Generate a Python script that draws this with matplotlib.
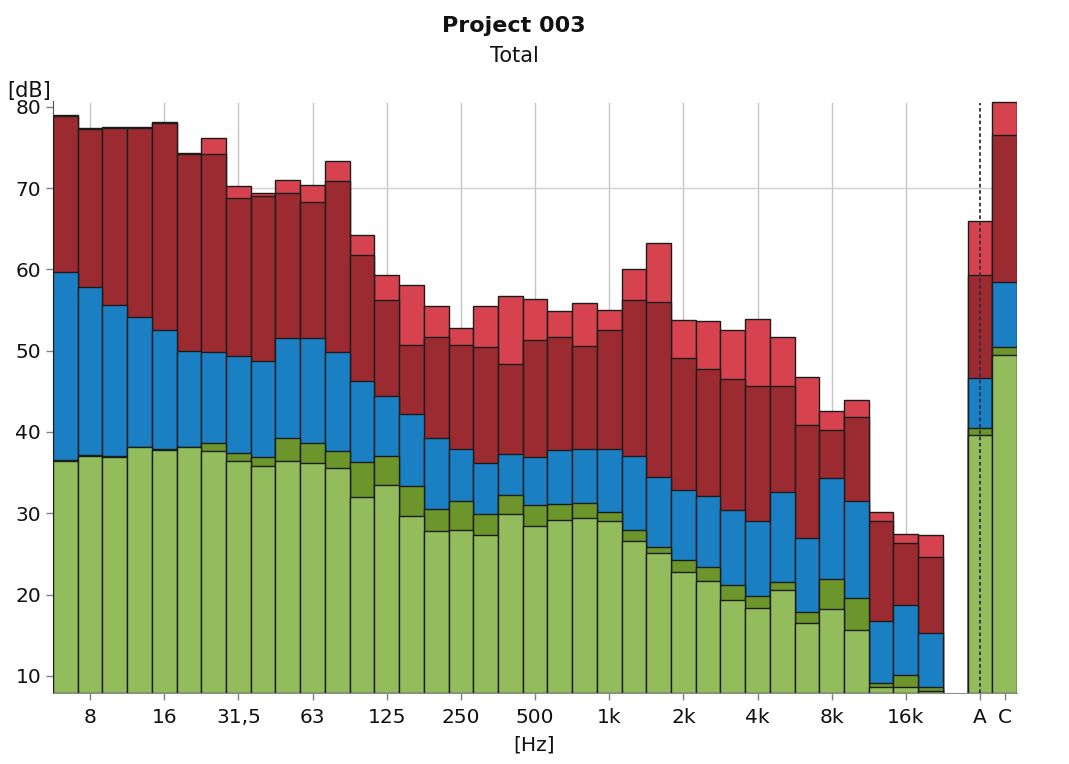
import numpy as np
import matplotlib
matplotlib.use("Agg")
import matplotlib.pyplot as plt

# 1/3-octave bands plus the A and C weighted totals
bands = ['6,3', '8', '10', '12,5', '16', '20', '25', '31,5', '40', '50', '63', '80',
         '100', '125', '160', '200', '250', '315', '400', '500', '630', '800',
         '1k', '1,25k', '1,6k', '2k', '2,5k', '3,15k', '4k', '5k', '6,3k', '8k',
         '10k', '12,5k', '16k', '20k']
totals = ['A', 'C']

# levels in dB, one list per layer (bands then A, C)
lvl_total = [79.0, 77.4, 77.5, 77.5, 78.1, 74.3, 76.1, 70.2, 69.4, 71.0, 70.4, 73.3,
             64.2, 59.3, 58.1, 55.5, 52.8, 55.5, 56.7, 56.4, 54.9, 55.9, 55.0, 60.0,
             63.3, 53.8, 53.6, 52.5, 53.9, 51.7, 46.8, 42.6, 43.9, 30.2, 27.5, 27.3,
             65.9, 80.6]
lvl_red = [78.9, 77.3, 77.4, 77.4, 78.0, 74.2, 74.2, 68.8, 69.0, 69.4, 68.3, 70.9,
           61.8, 56.2, 50.7, 51.7, 50.7, 50.4, 48.3, 51.3, 51.7, 50.6, 52.5, 56.2,
           56.0, 49.1, 47.8, 46.5, 45.6, 45.7, 40.9, 40.3, 41.9, 29.1, 26.4, 24.6,
           59.3, 76.5]
lvl_blue = [59.7, 57.8, 55.6, 54.1, 52.5, 50.0, 49.8, 49.4, 48.7, 51.6, 51.6, 49.8,
            46.3, 44.4, 42.2, 39.2, 37.9, 36.2, 37.3, 36.9, 37.8, 37.9, 37.9, 37.1,
            34.5, 32.9, 32.1, 30.4, 29.0, 32.6, 27.0, 34.3, 31.5, 16.7, 18.7, 15.3,
            46.6, 58.4]
lvl_dkgreen = [36.5, 37.2, 37.0, 38.2, 37.9, 38.2, 38.7, 37.4, 36.9, 39.2, 38.7, 37.6,
               36.3, 37.1, 33.3, 30.5, 31.5, 29.9, 32.3, 31.0, 31.2, 31.3, 30.1, 28.0,
               25.8, 24.2, 23.4, 21.2, 19.8, 21.6, 17.9, 21.9, 19.6, 9.1, 10.1, 8.6,
               40.5, 50.5]
lvl_green = [36.4, 37.1, 36.9, 38.1, 37.8, 38.1, 37.7, 36.4, 35.8, 36.4, 36.2, 35.6,
             32.0, 33.5, 29.7, 27.8, 27.9, 27.3, 29.9, 28.5, 29.2, 29.4, 29.0, 26.6,
             25.1, 22.8, 21.7, 19.3, 18.3, 20.6, 16.5, 18.2, 15.6, 8.7, 8.7, 8.2,
             39.6, 49.5]

tick_labels = ['8', '16', '31,5', '63', '125', '250', '500', '1k', '2k', '4k', '8k', '16k']

# bar positions: bands side by side, one empty slot, then A and C
x = np.concatenate([np.arange(len(bands)), len(bands) + 1 + np.arange(len(totals))])

fig = plt.figure(figsize=(10.69, 7.64), dpi=100)
ax = fig.add_axes([0.0496, 0.0929, 0.9018, 0.7749])

ymin, ymax = 7.9, 80.7
layers = [
    (lvl_total, '#d6434f'),
    (lvl_red, '#9c2a31'),
    (lvl_blue, '#1b80c3'),
    (lvl_dkgreen, '#6c952c'),
    (lvl_green, '#93bd5d'),
]
for z, (vals, col) in enumerate(layers):
    v = np.array(vals)
    ax.bar(x, v - ymin, bottom=ymin, width=1.0, color=col,
           edgecolor='#1c1c1c', linewidth=1.0, zorder=2 + z)

ax.set_xlim(-0.5, x[-1] + 0.5)
ax.set_ylim(ymin, ymax)

tick_pos = [bands.index(t) for t in tick_labels] + list(x[-2:])
ax.set_xticks(tick_pos)
ax.set_xticklabels(tick_labels + totals, fontsize=14.5)
ax.set_yticks(range(10, 81, 10))
ax.set_yticklabels([str(v) for v in range(10, 81, 10)], fontsize=14.5)
ax.tick_params(axis='both', colors='#808080', length=5, width=1, labelcolor='#111111')
ax.tick_params(axis='x', pad=6)

# light grid behind the bars
for t in tick_pos[:-2]:
    ax.plot([t, t], [ymin, 80.5], color='#c4c4c4', lw=1, zorder=1)
ax.axhline(70, color='#d0d0d0', lw=1, zorder=1)

# marker line on the A total
ax.plot([x[-2], x[-2]], [ymin, 80.5], color='#2d2d45', lw=1.3,
        ls=(0, (2, 1.5)), zorder=10)

for s in ['top', 'right']:
    ax.spines[s].set_visible(False)
ax.spines['left'].set_color('#505050')
ax.spines['bottom'].set_color('#909090')

fig.text(0.481, 0.966, 'Project 003', ha='center', va='center',
         fontsize=16, fontweight='bold', color='#111111')
fig.text(0.481, 0.927, 'Total', ha='center', va='center', fontsize=15, color='#111111')
fig.text(0.027, 0.881, '[dB]', ha='center', va='center', fontsize=15, color='#111111')
fig.text(0.5, 0.025, '[Hz]', ha='center', va='center', fontsize=14.5, color='#111111')

fig.savefig('out.png', dpi=100)
